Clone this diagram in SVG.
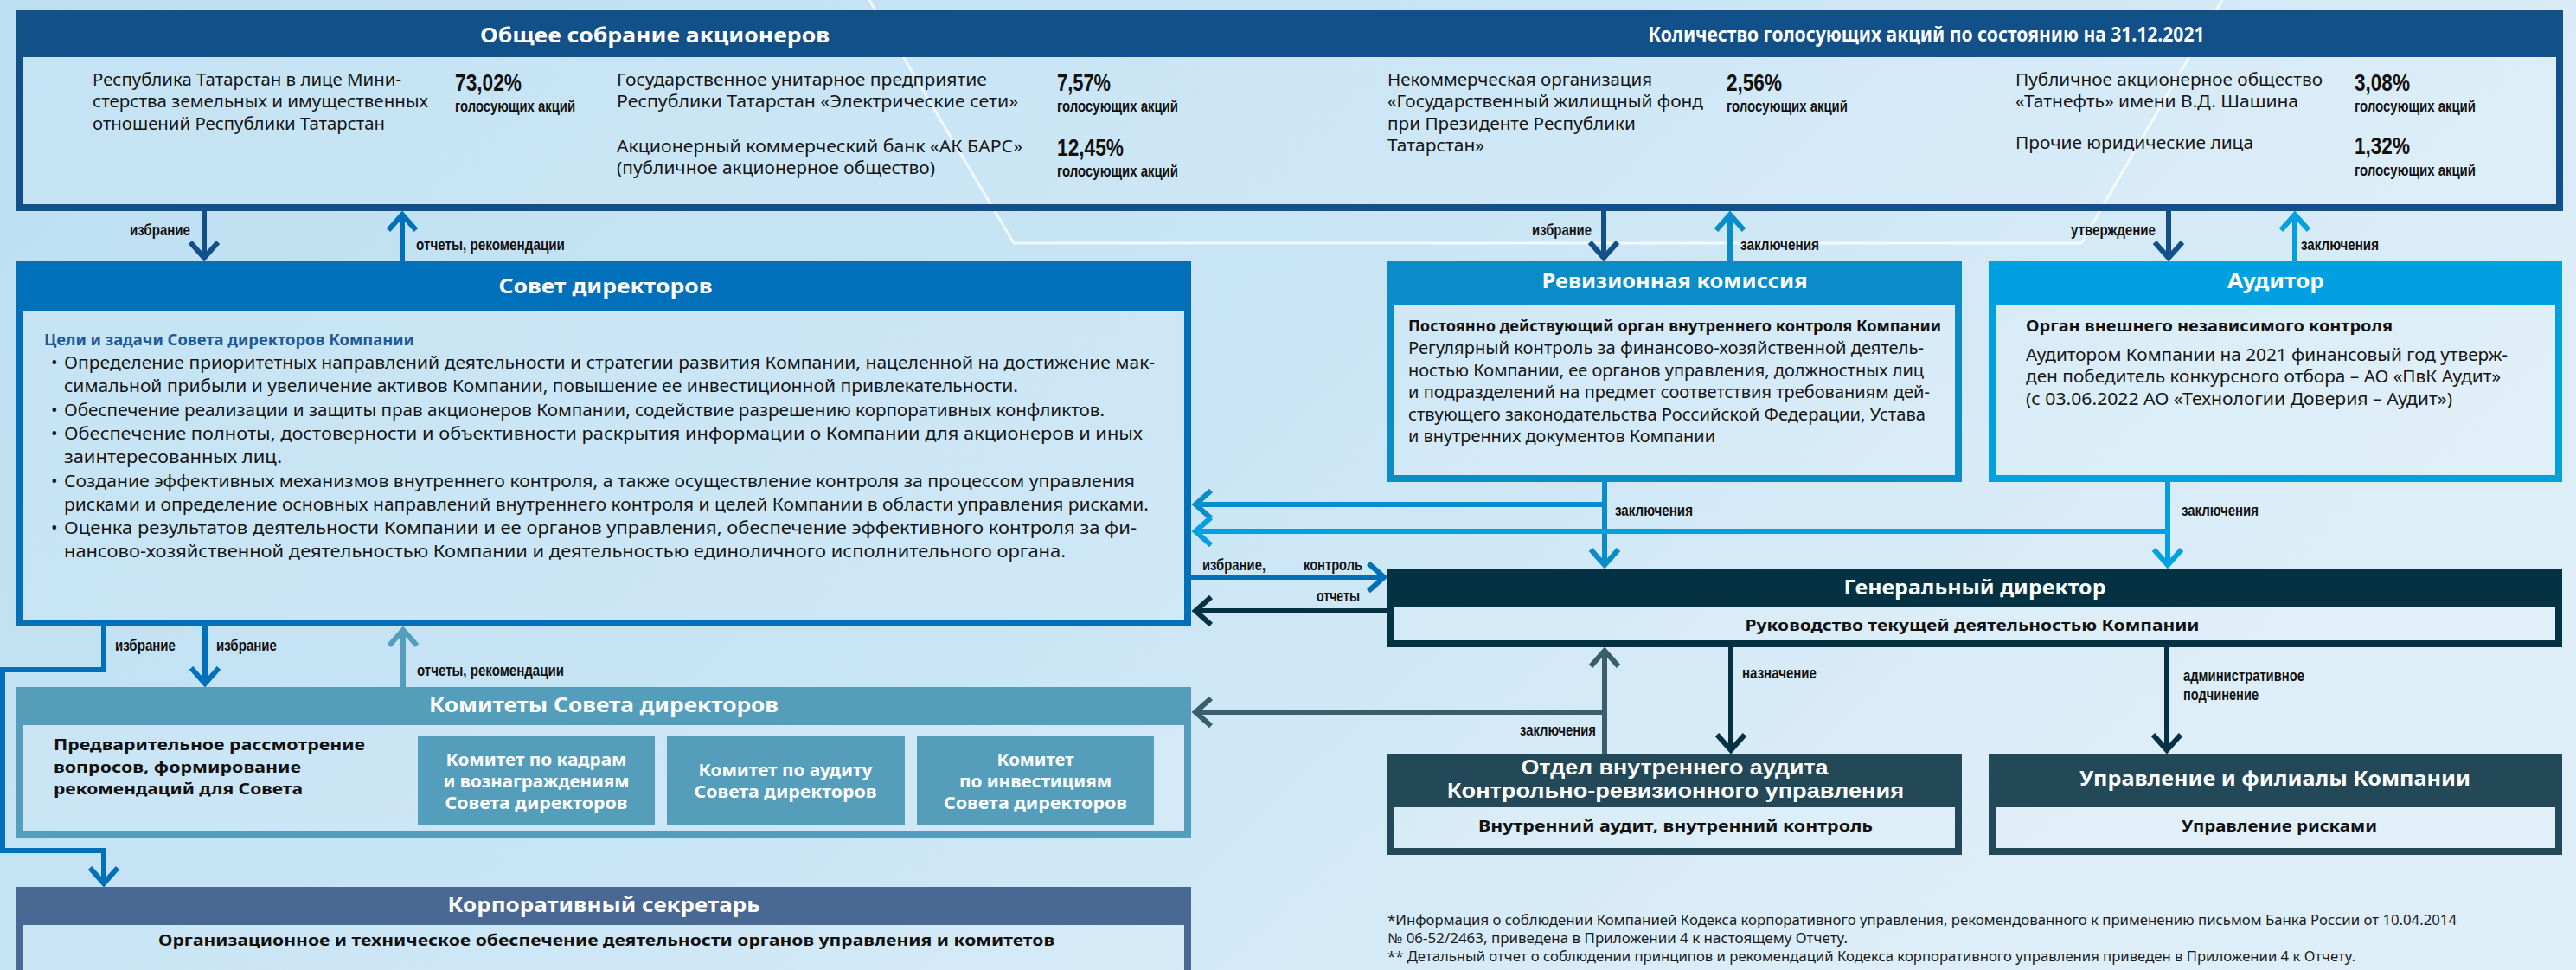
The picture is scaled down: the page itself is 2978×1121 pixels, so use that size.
<svg xmlns="http://www.w3.org/2000/svg" width="2978" height="1121" viewBox="0 0 2978 1121">
<defs>
<linearGradient id="bgGrad" x1="0" y1="0" x2="1" y2="0.4">
<stop offset="0" stop-color="#bddff2"/>
<stop offset="0.55" stop-color="#c9e5f5"/>
<stop offset="1" stop-color="#deeef8"/>
</linearGradient>
<marker id="m-navy" markerUnits="userSpaceOnUse" viewBox="-26 -22 30 44" markerWidth="30" markerHeight="44" refX="0" refY="0" orient="auto" overflow="visible"><path d="M-18,-16 L0,0 L-18,16" fill="none" stroke="#12508a" stroke-width="6"/></marker>
<marker id="m-blue" markerUnits="userSpaceOnUse" viewBox="-26 -22 30 44" markerWidth="30" markerHeight="44" refX="0" refY="0" orient="auto" overflow="visible"><path d="M-18,-16 L0,0 L-18,16" fill="none" stroke="#0070bb" stroke-width="6"/></marker>
<marker id="m-rev" markerUnits="userSpaceOnUse" viewBox="-26 -22 30 44" markerWidth="30" markerHeight="44" refX="0" refY="0" orient="auto" overflow="visible"><path d="M-18,-16 L0,0 L-18,16" fill="none" stroke="#0a8cc8" stroke-width="6"/></marker>
<marker id="m-aud" markerUnits="userSpaceOnUse" viewBox="-26 -22 30 44" markerWidth="30" markerHeight="44" refX="0" refY="0" orient="auto" overflow="visible"><path d="M-18,-16 L0,0 L-18,16" fill="none" stroke="#00a0e2" stroke-width="6"/></marker>
<marker id="m-dark" markerUnits="userSpaceOnUse" viewBox="-26 -22 30 44" markerWidth="30" markerHeight="44" refX="0" refY="0" orient="auto" overflow="visible"><path d="M-18,-16 L0,0 L-18,16" fill="none" stroke="#053242" stroke-width="6"/></marker>
<marker id="m-slate" markerUnits="userSpaceOnUse" viewBox="-26 -22 30 44" markerWidth="30" markerHeight="44" refX="0" refY="0" orient="auto" overflow="visible"><path d="M-18,-16 L0,0 L-18,16" fill="none" stroke="#3a5e6e" stroke-width="6"/></marker>
<marker id="m-teal" markerUnits="userSpaceOnUse" viewBox="-26 -22 30 44" markerWidth="30" markerHeight="44" refX="0" refY="0" orient="auto" overflow="visible"><path d="M-18,-16 L0,0 L-18,16" fill="none" stroke="#549ebc" stroke-width="6"/></marker>
</defs>
<style>
.frame{fill:#ffffff;fill-opacity:0.1;stroke-width:8}
.title{font-family:"Noto Sans","Liberation Sans",sans-serif;font-weight:700;font-size:24px;fill:#ffffff;text-anchor:middle}
.title2{font-family:"Liberation Sans",Arial,sans-serif;font-weight:700;font-size:24px;fill:#ffffff;text-anchor:middle}
.t{font-family:"Noto Sans","Liberation Sans",sans-serif;font-size:20px;fill:#151515}
.t19{font-family:"Noto Sans","Liberation Sans",sans-serif;font-size:19px;fill:#151515}
.b{font-family:"Noto Sans","Liberation Sans",sans-serif;font-weight:700;font-size:18px;fill:#111111}
.head{font-family:"Noto Sans","Liberation Sans",sans-serif;font-weight:700;font-size:18px;fill:#1d5a96}
.bc{font-family:"Noto Sans","Liberation Sans",sans-serif;font-weight:700;font-size:18px;fill:#111111;text-anchor:middle}
.wb{font-family:"Noto Sans","Liberation Sans",sans-serif;font-weight:700;font-size:19px;fill:#ffffff;text-anchor:middle}
.pct{font-family:"Liberation Sans",Arial,sans-serif;font-weight:700;font-size:28px;fill:#111111}
.pcs{font-family:"Liberation Sans",Arial,sans-serif;font-weight:700;font-size:18px;fill:#111111}
.lbl{font-family:"Liberation Sans",Arial,sans-serif;font-weight:700;font-size:19px;fill:#111111}
.fn{font-family:"Noto Sans","Liberation Sans",sans-serif;font-size:16px;fill:#1a1a1a}
.bl{font-family:"Noto Sans","Liberation Sans",sans-serif;font-size:20px;fill:#151515}
.ln{fill:none;stroke-width:6}
</style>
<rect x="0" y="0" width="2978" height="1121" fill="url(#bgGrad)"/>
<path d="M1005,0 L1172,281 L2406,281 L2569,0" fill="none" stroke="#ffffff" stroke-opacity="0.75" stroke-width="3"/>

<g id="connectors">
<path class="ln" stroke="#12508a" marker-end="url(#m-navy)" d="M236,244 V298"/>
<path class="ln" stroke="#0070bb" marker-end="url(#m-blue)" d="M465,302 V248"/>
<path class="ln" stroke="#12508a" marker-end="url(#m-navy)" d="M1854,244 V298"/>
<path class="ln" stroke="#0a8cc8" marker-end="url(#m-rev)" d="M2000,302 V248"/>
<path class="ln" stroke="#12508a" marker-end="url(#m-navy)" d="M2507,244 V298"/>
<path class="ln" stroke="#00a0e2" marker-end="url(#m-aud)" d="M2653,302 V248"/>
<path class="ln" stroke="#0a8cc8" marker-end="url(#m-rev)" d="M1855,557 V653"/>
<path class="ln" stroke="#0a8cc8" marker-end="url(#m-rev)" d="M1855,583 H1382"/>
<path class="ln" stroke="#00a0e2" marker-end="url(#m-aud)" d="M2506,557 V653"/>
<path class="ln" stroke="#00a0e2" marker-end="url(#m-aud)" d="M2506,614 H1382"/>
<path class="ln" stroke="#0070bb" marker-end="url(#m-blue)" d="M1377,667 H1600"/>
<path class="ln" stroke="#053242" marker-end="url(#m-dark)" d="M1604,706 H1382"/>
<path class="ln" stroke="#3a5e6e" marker-end="url(#m-slate)" d="M1855,871 V752"/>
<path class="ln" stroke="#3a5e6e" marker-end="url(#m-slate)" d="M1855,823 H1382"/>
<path class="ln" stroke="#053242" marker-end="url(#m-dark)" d="M2001,748 V867"/>
<path class="ln" stroke="#053242" marker-end="url(#m-dark)" d="M2505,748 V867"/>
<path class="ln" stroke="#0070bb" marker-end="url(#m-blue)" d="M120,724 V774 H3 V983 H120 V1021"/>
<path class="ln" stroke="#0070bb" marker-end="url(#m-blue)" d="M237,724 V790"/>
<path class="ln" stroke="#549ebc" marker-end="url(#m-teal)" d="M466,794 V728"/>
<text class="lbl" x="150" y="272" textLength="70" lengthAdjust="spacingAndGlyphs">избрание</text>
<text class="lbl" x="481" y="289" textLength="172" lengthAdjust="spacingAndGlyphs">отчеты, рекомендации</text>
<text class="lbl" x="1771" y="272" textLength="69" lengthAdjust="spacingAndGlyphs">избрание</text>
<text class="lbl" x="2012" y="289" textLength="91" lengthAdjust="spacingAndGlyphs">заключения</text>
<text class="lbl" x="2394" y="272" textLength="98" lengthAdjust="spacingAndGlyphs">утверждение</text>
<text class="lbl" x="2660" y="289" textLength="90" lengthAdjust="spacingAndGlyphs">заключения</text>
<text class="lbl" x="1867" y="596" textLength="90" lengthAdjust="spacingAndGlyphs">заключения</text>
<text class="lbl" x="2522" y="596" textLength="89" lengthAdjust="spacingAndGlyphs">заключения</text>
<text class="lbl" x="1390" y="659" textLength="73" lengthAdjust="spacingAndGlyphs">избрание,</text>
<text class="lbl" x="1507" y="659" textLength="68" lengthAdjust="spacingAndGlyphs">контроль</text>
<text class="lbl" x="1522" y="695" textLength="50" lengthAdjust="spacingAndGlyphs">отчеты</text>
<text class="lbl" x="133" y="752" textLength="70" lengthAdjust="spacingAndGlyphs">избрание</text>
<text class="lbl" x="250" y="752" textLength="70" lengthAdjust="spacingAndGlyphs">избрание</text>
<text class="lbl" x="482" y="781" textLength="170" lengthAdjust="spacingAndGlyphs">отчеты, рекомендации</text>
<text class="lbl" x="1757" y="850" textLength="88" lengthAdjust="spacingAndGlyphs">заключения</text>
<text class="lbl" x="2014" y="784" textLength="86" lengthAdjust="spacingAndGlyphs">назначение</text>
<text class="lbl" x="2524" y="787" textLength="140" lengthAdjust="spacingAndGlyphs">административное</text>
<text class="lbl" x="2524" y="809" textLength="87" lengthAdjust="spacingAndGlyphs">подчинение</text>
</g>

<g id="shareholders">
<rect class="frame" x="23" y="15" width="2936" height="225" stroke="#12508a"/>
<rect x="19" y="11" width="2944" height="55" fill="#12508a"/>
<text class="title" x="757" y="49" font-size="25" textLength="404" lengthAdjust="spacingAndGlyphs">Общее собрание акционеров</text>
<text class="title" x="2227" y="48" font-size="20" textLength="643" lengthAdjust="spacingAndGlyphs">Количество голосующих акций по состоянию на 31.12.2021</text>
<text class="t" x="107" y="99" textLength="357" lengthAdjust="spacingAndGlyphs">Республика Татарстан в лице Мини-</text>
<text class="t" x="107" y="124" textLength="388" lengthAdjust="spacingAndGlyphs">стерства земельных и имущественных</text>
<text class="t" x="107" y="150" textLength="338" lengthAdjust="spacingAndGlyphs">отношений Республики Татарстан</text>
<text class="pct" x="526" y="105" textLength="77" lengthAdjust="spacingAndGlyphs">73,02%</text>
<text class="pcs" x="526" y="129" textLength="139" lengthAdjust="spacingAndGlyphs">голосующих акций</text>
<text class="t" x="713" y="99" textLength="428" lengthAdjust="spacingAndGlyphs">Государственное унитарное предприятие</text>
<text class="t" x="713" y="124" textLength="464" lengthAdjust="spacingAndGlyphs">Республики Татарстан «Электрические сети»</text>
<text class="pct" x="1222" y="105" textLength="62" lengthAdjust="spacingAndGlyphs">7,57%</text>
<text class="pcs" x="1222" y="129" textLength="140" lengthAdjust="spacingAndGlyphs">голосующих акций</text>
<text class="t" x="713" y="176" textLength="469" lengthAdjust="spacingAndGlyphs">Акционерный коммерческий банк «АК БАРС»</text>
<text class="t" x="713" y="201" textLength="368" lengthAdjust="spacingAndGlyphs">(публичное акционерное общество)</text>
<text class="pct" x="1222" y="180" textLength="77" lengthAdjust="spacingAndGlyphs">12,45%</text>
<text class="pcs" x="1222" y="204" textLength="140" lengthAdjust="spacingAndGlyphs">голосующих акций</text>
<text class="t" x="1604" y="99" textLength="306" lengthAdjust="spacingAndGlyphs">Некоммерческая организация</text>
<text class="t" x="1604" y="124" textLength="365" lengthAdjust="spacingAndGlyphs">«Государственный жилищный фонд</text>
<text class="t" x="1604" y="150" textLength="287" lengthAdjust="spacingAndGlyphs">при Президенте Республики</text>
<text class="t" x="1604" y="175" textLength="112" lengthAdjust="spacingAndGlyphs">Татарстан»</text>
<text class="pct" x="1996" y="105" textLength="64" lengthAdjust="spacingAndGlyphs">2,56%</text>
<text class="pcs" x="1996" y="129" textLength="140" lengthAdjust="spacingAndGlyphs">голосующих акций</text>
<text class="t" x="2330" y="99" textLength="355" lengthAdjust="spacingAndGlyphs">Публичное акционерное общество</text>
<text class="t" x="2330" y="124" textLength="327" lengthAdjust="spacingAndGlyphs">«Татнефть» имени В.Д. Шашина</text>
<text class="pct" x="2722" y="105" textLength="64" lengthAdjust="spacingAndGlyphs">3,08%</text>
<text class="pcs" x="2722" y="129" textLength="140" lengthAdjust="spacingAndGlyphs">голосующих акций</text>
<text class="t" x="2330" y="172" textLength="275" lengthAdjust="spacingAndGlyphs">Прочие юридические лица</text>
<text class="pct" x="2722" y="178" textLength="64" lengthAdjust="spacingAndGlyphs">1,32%</text>
<text class="pcs" x="2722" y="203" textLength="140" lengthAdjust="spacingAndGlyphs">голосующих акций</text>
</g>

<g id="board">
<rect class="frame" x="23" y="306" width="1350" height="414" stroke="#0070bb"/>
<rect x="19" y="302" width="1358" height="57" fill="#0070bb"/>
<text class="title" x="700" y="339" font-size="25" textLength="247" lengthAdjust="spacingAndGlyphs">Совет директоров</text>
<text class="head" x="51" y="399" textLength="428" lengthAdjust="spacingAndGlyphs">Цели и задачи Совета директоров Компании</text>
<text class="bl" x="59" y="426">•</text><text class="bl" x="74" y="426" textLength="1261" lengthAdjust="spacingAndGlyphs">Определение приоритетных направлений деятельности и стратегии развития Компании, нацеленной на достижение мак-</text>
<text class="bl" x="74" y="453.3" textLength="1103" lengthAdjust="spacingAndGlyphs">симальной прибыли и увеличение активов Компании, повышение ее инвестиционной привлекательности.</text>
<text class="bl" x="59" y="480.6">•</text><text class="bl" x="74" y="480.6" textLength="1203" lengthAdjust="spacingAndGlyphs">Обеспечение реализации и защиты прав акционеров Компании, содействие разрешению корпоративных конфликтов.</text>
<text class="bl" x="59" y="507.9">•</text><text class="bl" x="74" y="507.9" textLength="1247" lengthAdjust="spacingAndGlyphs">Обеспечение полноты, достоверности и объективности раскрытия информации о Компании для акционеров и иных</text>
<text class="bl" x="74" y="535.2" textLength="252" lengthAdjust="spacingAndGlyphs">заинтересованных лиц.</text>
<text class="bl" x="59" y="562.5">•</text><text class="bl" x="74" y="562.5" textLength="1238" lengthAdjust="spacingAndGlyphs">Создание эффективных механизмов внутреннего контроля, а также осуществление контроля за процессом управления</text>
<text class="bl" x="74" y="589.8" textLength="1254" lengthAdjust="spacingAndGlyphs">рисками и определение основных направлений внутреннего контроля и целей Компании в области управления рисками.</text>
<text class="bl" x="59" y="617.1">•</text><text class="bl" x="74" y="617.1" textLength="1240" lengthAdjust="spacingAndGlyphs">Оценка результатов деятельности Компании и ее органов управления, обеспечение эффективного контроля за фи-</text>
<text class="bl" x="74" y="644.4" textLength="1158" lengthAdjust="spacingAndGlyphs">нансово-хозяйственной деятельностью Компании и деятельностью единоличного исполнительного органа.</text>
</g>

<g id="audit-commission">
<rect class="frame" x="1608" y="306" width="656" height="247" stroke="#0a8cc8"/>
<rect x="1604" y="302" width="664" height="51" fill="#0a8cc8"/>
<text class="title" x="1936" y="333" textLength="307" lengthAdjust="spacingAndGlyphs">Ревизионная комиссия</text>
<text class="b" x="1628" y="383" textLength="616" lengthAdjust="spacingAndGlyphs">Постоянно действующий орган внутреннего контроля Компании</text>
<text class="t19" x="1628" y="409" textLength="596" lengthAdjust="spacingAndGlyphs">Регулярный контроль за финансово-хозяйственной деятель-</text>
<text class="t19" x="1628" y="435" textLength="596" lengthAdjust="spacingAndGlyphs">ностью Компании, ее органов управления, должностных лиц</text>
<text class="t19" x="1628" y="460" textLength="603" lengthAdjust="spacingAndGlyphs">и подразделений на предмет соответствия требованиям дей-</text>
<text class="t19" x="1628" y="486" textLength="598" lengthAdjust="spacingAndGlyphs">ствующего законодательства Российской Федерации, Устава</text>
<text class="t19" x="1628" y="511" textLength="355" lengthAdjust="spacingAndGlyphs">и внутренних документов Компании</text>
</g>

<g id="auditor">
<rect class="frame" x="2303" y="306" width="655" height="247" stroke="#00a0e2"/>
<rect x="2299" y="302" width="663" height="51" fill="#00a0e2"/>
<text class="title" x="2631" y="333" textLength="112" lengthAdjust="spacingAndGlyphs">Аудитор</text>
<text class="b" x="2342" y="383" textLength="424" lengthAdjust="spacingAndGlyphs">Орган внешнего независимого контроля</text>
<text class="t" x="2342" y="417" textLength="557" lengthAdjust="spacingAndGlyphs">Аудитором Компании на 2021 финансовый год утверж-</text>
<text class="t" x="2342" y="442" textLength="549" lengthAdjust="spacingAndGlyphs">ден победитель конкурсного отбора – АО «ПвК Аудит»</text>
<text class="t" x="2342" y="468" textLength="493" lengthAdjust="spacingAndGlyphs">(с 03.06.2022 АО «Технологии Доверия – Аудит»)</text>
</g>

<g id="ceo">
<rect class="frame" x="1608" y="661" width="1350" height="83" stroke="#053242"/>
<rect x="1604" y="657" width="1358" height="44" fill="#053242"/>
<text class="title" x="2283" y="687" textLength="303" lengthAdjust="spacingAndGlyphs">Генеральный директор</text>
<text class="bc" x="2280" y="729" textLength="525" lengthAdjust="spacingAndGlyphs">Руководство текущей деятельностью Компании</text>
</g>

<g id="committees">
<rect class="frame" x="23" y="798" width="1350" height="166" stroke="#549ebc"/>
<rect x="19" y="794" width="1358" height="44" fill="#549ebc"/>
<text class="title" x="698" y="823" textLength="404" lengthAdjust="spacingAndGlyphs">Комитеты Совета директоров</text>
<text class="b" x="62" y="867" textLength="360" lengthAdjust="spacingAndGlyphs">Предварительное рассмотрение</text>
<text class="b" x="62" y="893" textLength="286" lengthAdjust="spacingAndGlyphs">вопросов, формирование</text>
<text class="b" x="62" y="918" textLength="288" lengthAdjust="spacingAndGlyphs">рекомендаций для Совета</text>
<g id="committee-hr">
<rect x="483" y="850" width="274" height="103" fill="#549ebc"/>
<text class="wb" x="620" y="885" textLength="209" lengthAdjust="spacingAndGlyphs">Комитет по кадрам</text>
<text class="wb" x="620" y="910" textLength="215" lengthAdjust="spacingAndGlyphs">и вознаграждениям</text>
<text class="wb" x="620" y="935" textLength="211" lengthAdjust="spacingAndGlyphs">Совета директоров</text>
</g>
<g id="committee-audit">
<rect x="771" y="850" width="275" height="103" fill="#549ebc"/>
<text class="wb" x="908" y="897" textLength="201" lengthAdjust="spacingAndGlyphs">Комитет по аудиту</text>
<text class="wb" x="908" y="922" textLength="211" lengthAdjust="spacingAndGlyphs">Совета директоров</text>
</g>
<g id="committee-invest">
<rect x="1060" y="850" width="274" height="103" fill="#549ebc"/>
<text class="wb" x="1197" y="885" textLength="89" lengthAdjust="spacingAndGlyphs">Комитет</text>
<text class="wb" x="1197" y="910" textLength="176" lengthAdjust="spacingAndGlyphs">по инвестициям</text>
<text class="wb" x="1197" y="935" textLength="212" lengthAdjust="spacingAndGlyphs">Совета директоров</text>
</g>
</g>

<g id="internal-audit">
<rect class="frame" x="1608" y="875" width="656" height="109" stroke="#234858"/>
<rect x="1604" y="871" width="664" height="62" fill="#234858"/>
<text class="title2" x="1936" y="895" font-size="23" textLength="355" lengthAdjust="spacingAndGlyphs">Отдел внутреннего аудита</text>
<text class="title2" x="1937" y="922" font-size="23" textLength="528" lengthAdjust="spacingAndGlyphs">Контрольно-ревизионного управления</text>
<text class="bc" x="1937" y="961" textLength="456" lengthAdjust="spacingAndGlyphs">Внутренний аудит, внутренний контроль</text>
</g>

<g id="branches">
<rect class="frame" x="2303" y="875" width="655" height="109" stroke="#234858"/>
<rect x="2299" y="871" width="663" height="62" fill="#234858"/>
<text class="title" x="2630" y="908" font-size="23" textLength="452" lengthAdjust="spacingAndGlyphs">Управление и филиалы Компании</text>
<text class="bc" x="2635" y="961" textLength="226" lengthAdjust="spacingAndGlyphs">Управление рисками</text>
</g>

<g id="secretary">
<rect class="frame" x="23" y="1029" width="1350" height="120" stroke="#4a6894"/>
<rect x="19" y="1025" width="1358" height="44" fill="#4a6894"/>
<text class="title" x="698" y="1054" textLength="361" lengthAdjust="spacingAndGlyphs">Корпоративный секретарь</text>
<text class="bc" x="701" y="1093" textLength="1036" lengthAdjust="spacingAndGlyphs">Организационное и техническое обеспечение деятельности органов управления и комитетов</text>
</g>

<g id="footnotes">
<text class="fn" x="1604" y="1069" textLength="1236" lengthAdjust="spacingAndGlyphs">*Информация о соблюдении Компанией Кодекса корпоративного управления, рекомендованного к применению письмом Банка России от 10.04.2014</text>
<text class="fn" x="1604" y="1090" textLength="532" lengthAdjust="spacingAndGlyphs">№ 06-52/2463, приведена в Приложении 4 к настоящему Отчету.</text>
<text class="fn" x="1604" y="1111" textLength="1119" lengthAdjust="spacingAndGlyphs">** Детальный отчет о соблюдении принципов и рекомендаций Кодекса корпоративного управления приведен в Приложении 4 к Отчету.</text>
</g>
</svg>
